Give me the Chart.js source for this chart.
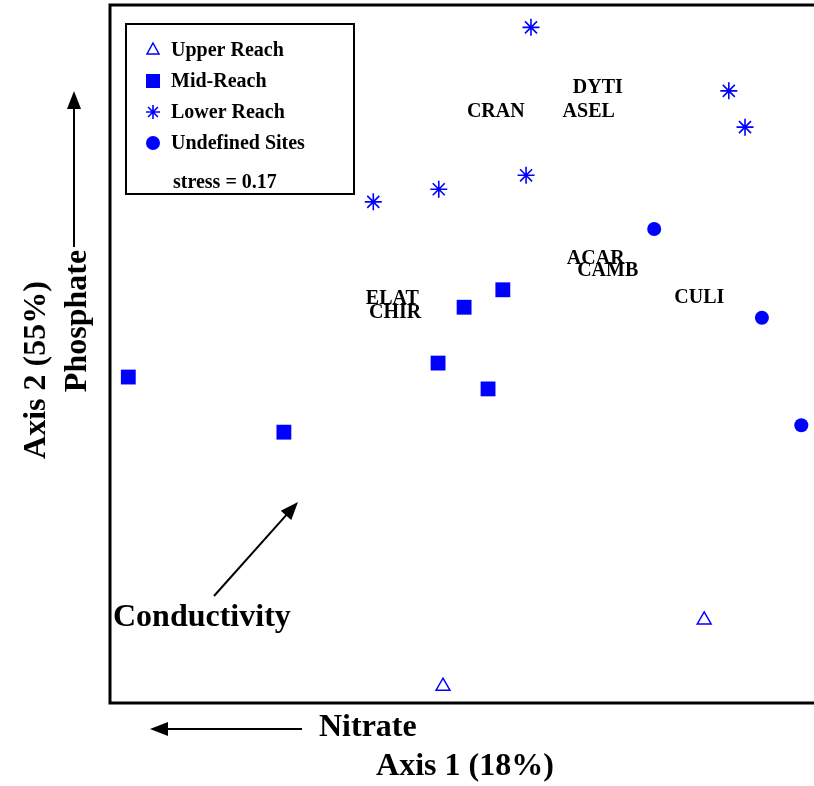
<!DOCTYPE html>
<html>
<head>
<meta charset="utf-8">
<script src="https://cdn.jsdelivr.net/npm/chart.js@4"></script>
<style>
  body { margin: 0; background: #fff; }
  #wrap { width: 814px; height: 786px; }
</style>
</head>
<body>
<div id="wrap"><canvas id="myChart" width="814" height="786"></canvas></div>
<script>
// NMDS site scores (axis 1, axis 2)
const upperReach = [[47.3, 2.4], [84.4, 11.9]];
const midReach = [[2.6, 46.7], [24.7, 38.8], [46.6, 48.7], [50.3, 56.7], [55.8, 59.2], [53.7, 45.0]];
const lowerReach = [[59.8, 96.8], [87.9, 87.7], [90.2, 82.5], [37.4, 71.8], [46.7, 73.6], [59.1, 75.6]];
const undefinedSites = [[77.3, 67.9], [92.6, 55.2], [98.2, 39.8]];

// taxa scores
const taxa = ['DYTI', 'ASEL', 'CRAN', 'ACAR', 'CAMB', 'ELAT', 'CHIR', 'CULI'];
const taxaX = [69.3, 68.0, 54.8, 69.0, 70.7, 40.1, 40.5, 83.7];
const taxaY = [88.4, 85.0, 85.0, 63.9, 62.2, 58.2, 56.2, 58.3];

const stress = 0.17;

const blue = '#0000ff';
const serif = '"Liberation Serif", "Times New Roman", serif';

function pts(arr) {
    return arr.map(p => ({ x: p[0], y: p[1] }));
}

function arrow(ctx, x1, y1, x2, y2) {
    const a = Math.atan2(y2 - y1, x2 - x1);
    ctx.beginPath();
    ctx.moveTo(x1, y1);
    ctx.lineTo(x2 - Math.cos(a) * 12, y2 - Math.sin(a) * 12);
    ctx.stroke();
    ctx.beginPath();
    ctx.moveTo(x2, y2);
    ctx.lineTo(x2 - Math.cos(a) * 18 + Math.sin(a) * 7, y2 - Math.sin(a) * 18 - Math.cos(a) * 7);
    ctx.lineTo(x2 - Math.cos(a) * 18 - Math.sin(a) * 7, y2 - Math.sin(a) * 18 + Math.cos(a) * 7);
    ctx.closePath();
    ctx.fill();
}

// frame, taxa names, legend and axis notes
const decor = {
    id: 'decor',
    afterDatasetsDraw(chart) {
        const ctx = chart.ctx;
        const area = chart.chartArea;
        const xs = chart.scales.x, ys = chart.scales.y;
        ctx.save();
        ctx.fillStyle = '#000';
        ctx.strokeStyle = '#000';

        // frame (right side runs off the picture)
        ctx.lineWidth = 3;
        ctx.beginPath();
        ctx.moveTo(814, area.top);
        ctx.lineTo(area.left, area.top);
        ctx.lineTo(area.left, area.bottom);
        ctx.lineTo(814, area.bottom);
        ctx.stroke();

        // taxa
        ctx.font = 'bold 20px ' + serif;
        ctx.textAlign = 'center';
        ctx.textBaseline = 'middle';
        taxa.forEach((t, i) => {
            ctx.fillText(t, xs.getPixelForValue(taxaX[i]), ys.getPixelForValue(taxaY[i]) + 2);
        });

        // legend box
        ctx.lineWidth = 2;
        ctx.strokeRect(126, 24, 228, 170);
        const names = ['Upper Reach', 'Mid-Reach', 'Lower Reach', 'Undefined Sites'];
        ctx.textAlign = 'left';
        names.forEach((n, i) => {
            const y = 50 + i * 31;
            const ds = chart.data.datasets[i];
            ctx.fillStyle = blue;
            ctx.strokeStyle = blue;
            ctx.lineWidth = ds.borderWidth;
            if (ds.pointStyle == 'triangle') {
                ctx.beginPath();
                ctx.moveTo(153, y - 7);
                ctx.lineTo(159, y + 4);
                ctx.lineTo(147, y + 4);
                ctx.closePath();
                ctx.stroke();
            } else if (ds.pointStyle == 'rect') {
                ctx.fillRect(146, y - 7, 14, 14);
            } else if (ds.pointStyle == 'star') {
                Chart.helpers.drawPoint(ctx, { pointStyle: 'star', radius: 7, borderWidth: 1.5 }, 153, y);
            } else {
                ctx.beginPath();
                ctx.arc(153, y, 7, 0, Math.PI * 2);
                ctx.fill();
            }
            ctx.fillStyle = '#000';
            ctx.fillText(n, 171, y + 1);
        });
        ctx.fillText('stress = ' + stress.toFixed(2), 173, 183);

        // Conductivity
        ctx.lineWidth = 2;
        ctx.strokeStyle = '#000';
        ctx.fillStyle = '#000';
        arrow(ctx, 214, 596, 298, 502);
        ctx.font = 'bold 32px ' + serif;
        ctx.fillText('Conductivity', 113, 618);

        // Nitrate
        arrow(ctx, 302, 729, 150, 729);
        ctx.fillText('Nitrate', 319, 728);
        ctx.textAlign = 'center';
        ctx.fillText('Axis 1 (18%)', 465, 767);

        // Phosphate
        arrow(ctx, 74, 247, 74, 91);
        ctx.save();
        ctx.translate(78, 321);
        ctx.rotate(-Math.PI / 2);
        ctx.fillText('Phosphate', 0, 0);
        ctx.restore();
        ctx.save();
        ctx.translate(37, 370);
        ctx.rotate(-Math.PI / 2);
        ctx.fillText('Axis 2 (55%)', 0, 0);
        ctx.restore();

        ctx.restore();
    }
};

const ctx = document.getElementById('myChart').getContext('2d');
new Chart(ctx, {
    type: 'scatter',
    data: {
        datasets: [{
            label: 'Upper Reach',
            data: pts(upperReach),
            pointStyle: 'triangle',
            pointRadius: 8,
            borderWidth: 1.5,
            borderColor: blue,
            backgroundColor: 'rgba(0,0,0,0)'
        }, {
            label: 'Mid-Reach',
            data: pts(midReach),
            pointStyle: 'rect',
            pointRadius: 10.5,
            borderWidth: 0,
            borderColor: blue,
            backgroundColor: blue
        }, {
            label: 'Lower Reach',
            data: pts(lowerReach),
            pointStyle: 'star',
            pointRadius: 8.5,
            borderWidth: 1.6,
            borderColor: blue,
            backgroundColor: blue
        }, {
            label: 'Undefined Sites',
            data: pts(undefinedSites),
            pointStyle: 'circle',
            pointRadius: 7,
            borderWidth: 0,
            borderColor: blue,
            backgroundColor: blue
        }]
    },
    options: {
        responsive: false,
        animation: false,
        layout: { autoPadding: false, padding: { left: 110, top: 5, right: 0, bottom: 83 } },
        scales: {
            x: { display: false, min: 0, max: 100 },
            y: { display: false, min: 0, max: 100 }
        },
        plugins: {
            legend: { display: false },
            tooltip: { enabled: false }
        }
    },
    plugins: [decor]
});
</script>
</body>
</html>
